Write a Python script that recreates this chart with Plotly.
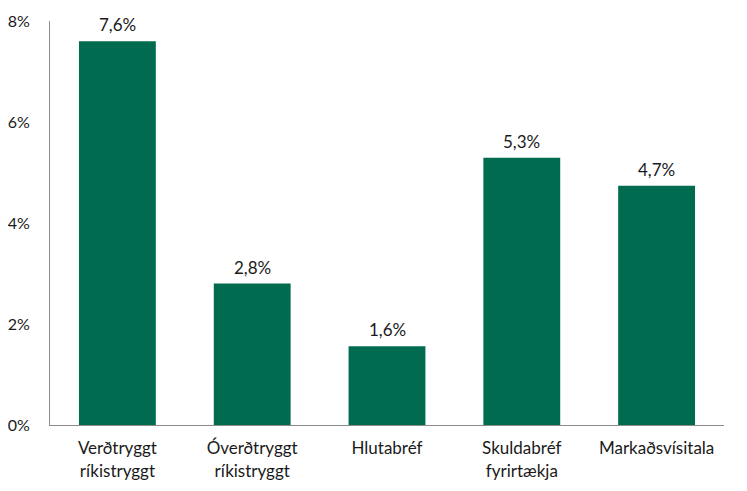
import plotly.graph_objects as go

categories = ["Verðtryggt<br>ríkistryggt", "Óverðtryggt<br>ríkistryggt", "Hlutabréf",
              "Skuldabréf<br>fyrirtækja", "Markaðsvísitala"]
values = [0.076, 0.028, 0.0156, 0.0529, 0.0474]
tick_vals = [0, 0.02, 0.04, 0.06, 0.08]

fig = go.Figure(go.Bar(
    x=categories, y=values,
    marker=dict(color="#006B4F", line=dict(width=0)),
    width=0.57,
))

for c, v in zip(categories, values):
    fig.add_annotation(
        x=c, y=v, text=f"{v * 100:.1f}%".replace(".", ","),
        showarrow=False, yanchor="bottom", yshift=4,
        font=dict(size=17, color="#1a1a1a"),
    )

# the page body has an 8px default margin, so the figure is offset by 8px
fig.update_layout(
    width=739, height=483,
    margin=dict(l=42, r=23, t=13, b=66),
    paper_bgcolor="white", plot_bgcolor="white",
    separators=",.",
    font=dict(family="Lato, Carlito, sans-serif", size=16, color="#1a1a1a"),
    showlegend=False,
    xaxis=dict(showline=True, linecolor="#8c8c8c", linewidth=1,
               ticks="outside", ticklen=8, tickcolor="rgba(0,0,0,0)",
               tickfont=dict(size=17), showgrid=False, automargin=False),
    yaxis=dict(range=[0, 0.08], tickvals=tick_vals, tickformat=".0%",
               showline=True, linecolor="#8c8c8c", linewidth=1, showgrid=False,
               zeroline=False, ticks="outside", ticklen=16, tickcolor="rgba(0,0,0,0)",
               tickfont=dict(size=16), automargin=False),
)

fig.write_html("out.html")
